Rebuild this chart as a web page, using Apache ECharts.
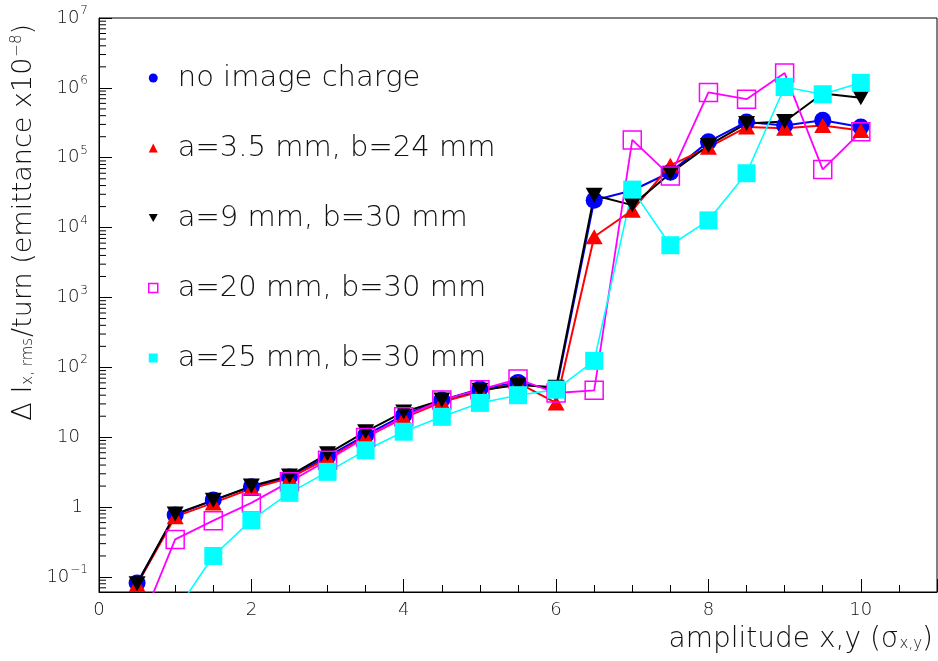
<!DOCTYPE html>
<html><head><meta charset="utf-8">
<script src="https://cdn.jsdelivr.net/npm/echarts@6/dist/echarts.min.js"></script>
<style>html,body{margin:0;padding:0;background:#fff}#c{width:938px;height:661px}</style>
</head><body><div id="c"></div>
<script>
// ---- data ----
const amplitude = [0.5, 1, 1.5, 2, 2.5, 3, 3.5, 4, 4.5, 5, 5.5, 6, 6.5, 7, 7.5, 8, 8.5, 9, 9.5, 10];
const noImageCharge = [0.082, 0.77, 1.26, 1.95, 2.7, 5.3, 10.7, 20.7, 34, 49, 61, 47, 24600, 34000, 62000, 170000, 325000, 290000, 345000, 275000];
const a35b24 = [0.078, 0.73, 1.15, 1.85, 2.6, 5.0, 10, 19, 32, 45, 60, 31, 7400, 17700, 78000, 141000, 275000, 265000, 290000, 245000];
const a9b30 = [0.08, 0.8, 1.25, 2.0, 2.8, 5.8, 12, 23, 34, 47, 56, 52, 29000, 21000, 60000, 150000, 310000, 330000, 830000, 720000];
const a20b30 = [0.016, 0.345, 0.64, 1.15, 2.3, 4.7, 9.9, 19.6, 34, 48, 68, 43, 47, 180000, 55000, 860000, 690000, 1630000, 68000, 235000];
const a25b30 = [null, 0.031, 0.2, 0.65, 1.6, 3.2, 6.5, 12, 19.6, 31, 40, 48, 124, 35000, 5600, 12700, 60000, 1030000, 810000, 1180000];
const seriesNames = ['no image charge', 'a=3.5 mm, b=24 mm', 'a=9 mm, b=30 mm', 'a=20 mm, b=30 mm', 'a=25 mm, b=30 mm'];
const xMin = 0, xMax = 11, xMajor = 2;
const yMin = 0.061, yMax = 1e7;
const yDecades = [-2, -1, 0, 1, 2, 3, 4, 5, 6, 7];
const yMinorMultipliers = [2, 3, 4, 5, 6, 7, 8, 9];

// ---- helpers ----
const FONT = "'DejaVu Sans', sans-serif";
const TXT = '#111';
const pairs = arr => amplitude.map((x, i) => [x, arr[i]]);
const yMinorTicks = [];
yDecades.forEach(d => yMinorMultipliers.forEach(m => {
  const v = m * Math.pow(10, d);
  if (v > yMin && v < yMax) yMinorTicks.push([xMin, v]);
}));

const chart = echarts.init(document.getElementById('c'), null, {renderer: 'canvas'});
const baseLine = {type: 'line', showSymbol: true, showAllSymbol: true, animation: false,
  emphasis: {disabled: true}, clip: true, z: 3};

chart.setOption({
  backgroundColor: '#fff',
  animation: false,
  grid: {left: 99, top: 18, width: 838, height: 574, show: true, borderColor: '#000', borderWidth: 1,
         backgroundColor: 'transparent', outerBoundsMode: 'none', containLabel: false},
  legend: {
    orient: 'vertical', left: 143, top: 58, itemWidth: 9, itemHeight: 9, itemGap: 40,
    selectedMode: false,
    formatter: name => '{s|}' + name,
    textStyle: {fontFamily: FONT, fontSize: 29, fontWeight: 300, color: TXT, lineHeight: 30,
      rich: {s: {width: 15}}},
    data: [
      {name: seriesNames[0], icon: 'circle', itemStyle: {color: '#0000ff'}},
      {name: seriesNames[1], icon: 'triangle', itemStyle: {color: '#ff0000'}},
      {name: seriesNames[2], icon: 'path://M0,0L10,0L5,9Z', itemStyle: {color: '#000000'}},
      {name: seriesNames[3], icon: 'rect', itemStyle: {color: 'transparent', borderColor: '#ff00ff', borderWidth: 1.5}},
      {name: seriesNames[4], icon: 'rect', itemStyle: {color: '#00ffff'}}
    ]
  },
  xAxis: {
    type: 'value', min: xMin, max: xMax, interval: xMajor,
    name: '{t|amplitude x,y (σ}{sub|x,y}{t|)}',
    nameLocation: 'end', nameGap: -4, nameMoveOverlap: false,
    nameTextStyle: {align: 'right', verticalAlign: 'top', padding: [33, 0, 0, 0],
      rich: {
        t: {fontFamily: FONT, fontSize: 28, fontWeight: 300, color: TXT, lineHeight: 30},
        sub: {fontFamily: FONT, fontSize: 15, fontWeight: 300, color: TXT, padding: [9, 0, 0, 1]}
      }},
    axisLine: {show: true, lineStyle: {color: '#000', width: 1}},
    axisTick: {show: true, inside: true, length: 13, lineStyle: {color: '#000', width: 1}},
    minorTick: {show: true, splitNumber: 4, length: 7, lineStyle: {color: '#000', width: 1}},
    splitLine: {show: false},
    axisLabel: {margin: 9, fontFamily: FONT, fontSize: 18, fontWeight: 300, color: TXT,
      formatter: v => (v <= 10 && Math.abs(v - Math.round(v)) < 1e-9) ? String(Math.round(v)) : ''}
  },
  yAxis: {
    type: 'log', logBase: 10, min: yMin, max: yMax,
    name: '{t|Δ I}{sub|x, rms}{t|/turn (emittance x10}{sup|−8}{t|)}',
    nameLocation: 'end', nameRotate: 90, nameGap: -6, nameMoveOverlap: false,
    nameTextStyle: {align: 'right', verticalAlign: 'bottom', padding: [0, 0, 60, 0],
      rich: {
        t: {fontFamily: FONT, fontSize: 27, fontWeight: 300, color: TXT, lineHeight: 30},
        sub: {fontFamily: FONT, fontSize: 15, fontWeight: 300, color: TXT, padding: [9, 1, 0, 1]},
        sup: {fontFamily: FONT, fontSize: 15, fontWeight: 300, color: TXT, padding: [0, 0, 14, 1]}
      }},
    axisLine: {show: true, lineStyle: {color: '#000', width: 1}},
    axisTick: {show: true, inside: true, length: 13, lineStyle: {color: '#000', width: 1}},
    splitLine: {show: false},
    axisLabel: {margin: 11, fontFamily: FONT, fontSize: 18, fontWeight: 300, color: TXT,
      rich: {
        b: {fontFamily: FONT, fontSize: 18, fontWeight: 300, color: TXT},
        sup: {fontFamily: FONT, fontSize: 12, fontWeight: 300, color: TXT, padding: [0, 0, 14, 1]},
        p8: {width: 8}, p5: {width: 5}
      },
      formatter: v => {
        const e = Math.round(Math.log10(v));
        if (Math.abs(Math.log10(v) - e) > 1e-6) return '';
        if (e === 0) return '{b|1}{p5|}';
        if (e === 1) return '{b|10}{p8|}';
        if (e === -1) return '{b|10}{sup|−1}';
        return '{b|10}{sup|' + e + '}';
      }}
  },
  series: [
    Object.assign({}, baseLine, {name: seriesNames[0], data: pairs(noImageCharge), symbol: 'circle', symbolSize: 17,
      itemStyle: {color: '#0000ff'}, lineStyle: {color: '#0000ff', width: 2}}),
    Object.assign({}, baseLine, {name: seriesNames[1], data: pairs(a35b24), symbol: 'triangle', symbolSize: [17, 15],
      itemStyle: {color: '#ff0000'}, lineStyle: {color: '#ff0000', width: 2}}),
    Object.assign({}, baseLine, {name: seriesNames[2], data: pairs(a9b30), symbol: 'triangle', symbolRotate: 180, symbolSize: [17, 15],
      itemStyle: {color: '#000000'}, lineStyle: {color: '#000000', width: 2}}),
    Object.assign({}, baseLine, {name: seriesNames[3], data: pairs(a20b30), symbol: 'rect', symbolSize: 18,
      itemStyle: {color: 'transparent', borderColor: '#ff00ff', borderWidth: 1.5}, lineStyle: {color: '#ff00ff', width: 1.8}}),
    Object.assign({}, baseLine, {name: seriesNames[4], data: pairs(a25b30), symbol: 'rect', symbolSize: 18, connectNulls: false,
      itemStyle: {color: '#00ffff'}, lineStyle: {color: '#00ffff', width: 1.6}}),
    {type: 'custom', name: 'yMinorTicks', silent: true, animation: false, z: 4,
      data: yMinorTicks,
      renderItem: (params, api) => {
        const p = api.coord([api.value(0), api.value(1)]);
        return {type: 'line', shape: {x1: p[0], y1: p[1], x2: p[0] + 7, y2: p[1]},
                style: {stroke: '#000', lineWidth: 1}};
      }}
  ]
});
</script></body></html>
